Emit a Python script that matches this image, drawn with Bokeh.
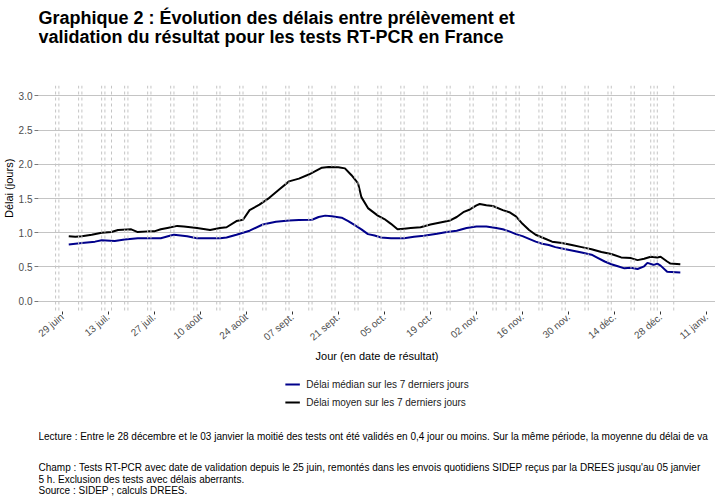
import math
import pandas as pd
from bokeh.plotting import figure
from bokeh.layouts import column
from bokeh.models import (Range1d, FixedTicker, Span, Label, Legend, LegendItem, Title,
                          ColumnDataSource, NumeralTickFormatter)
from bokeh.embed import file_html
from bokeh.resources import INLINE

# ---------------- data ----------------
mean_dates = ["2020-07-01", "2020-07-03", "2020-07-05", "2020-07-08", "2020-07-11", "2020-07-14",
              "2020-07-16", "2020-07-20", "2020-07-22", "2020-07-25", "2020-07-27", "2020-07-29",
              "2020-07-31", "2020-08-03", "2020-08-05", "2020-08-09", "2020-08-13", "2020-08-16",
              "2020-08-18", "2020-08-21", "2020-08-23", "2020-08-25", "2020-08-28", "2020-08-31",
              "2020-09-03", "2020-09-06", "2020-09-09", "2020-09-12", "2020-09-14", "2020-09-16",
              "2020-09-18", "2020-09-21", "2020-09-23", "2020-09-25", "2020-09-27", "2020-09-28",
              "2020-09-30", "2020-10-03", "2020-10-05", "2020-10-07", "2020-10-09", "2020-10-11",
              "2020-10-13", "2020-10-16", "2020-10-19", "2020-10-22", "2020-10-25", "2020-10-27",
              "2020-10-29", "2020-10-31", "2020-11-02", "2020-11-03", "2020-11-05", "2020-11-07",
              "2020-11-10", "2020-11-12", "2020-11-14", "2020-11-16", "2020-11-18", "2020-11-20",
              "2020-11-22", "2020-11-25", "2020-11-28", "2020-12-01", "2020-12-04", "2020-12-07",
              "2020-12-10", "2020-12-13", "2020-12-16", "2020-12-19", "2020-12-21", "2020-12-23",
              "2020-12-25", "2020-12-27", "2020-12-28", "2020-12-30", "2020-12-31", "2021-01-03"]
mean_values = [0.95, 0.94, 0.95, 0.97, 1.00, 1.01,
               1.04, 1.05, 1.01, 1.02, 1.02, 1.05,
               1.07, 1.10, 1.09, 1.07, 1.04, 1.07,
               1.08, 1.17, 1.19, 1.33, 1.41, 1.51,
               1.63, 1.75, 1.79, 1.85, 1.90, 1.95,
               1.96, 1.955, 1.94, 1.84, 1.72, 1.52,
               1.36, 1.25, 1.20, 1.13, 1.05, 1.06,
               1.07, 1.08, 1.12, 1.15, 1.18, 1.23,
               1.30, 1.34, 1.40, 1.42, 1.40, 1.39,
               1.33, 1.30, 1.24, 1.13, 1.04, 0.97,
               0.93, 0.87, 0.85, 0.82, 0.79, 0.76,
               0.72, 0.69, 0.64, 0.63, 0.60, 0.62,
               0.65, 0.64, 0.65, 0.58, 0.55, 0.54]

median_dates = ["2020-07-01", "2020-07-05", "2020-07-09", "2020-07-11", "2020-07-15", "2020-07-18",
                "2020-07-22", "2020-07-29", "2020-08-01", "2020-08-02", "2020-08-06", "2020-08-09",
                "2020-08-12", "2020-08-16", "2020-08-18", "2020-08-21", "2020-08-25", "2020-08-29",
                "2020-09-02", "2020-09-06", "2020-09-09", "2020-09-13", "2020-09-15", "2020-09-17",
                "2020-09-19", "2020-09-22", "2020-09-24", "2020-09-26", "2020-09-28", "2020-09-30",
                "2020-10-02", "2020-10-04", "2020-10-07", "2020-10-11", "2020-10-14", "2020-10-17",
                "2020-10-21", "2020-10-24", "2020-10-27", "2020-10-30", "2020-11-02", "2020-11-05",
                "2020-11-08", "2020-11-10", "2020-11-12", "2020-11-14", "2020-11-16", "2020-11-18",
                "2020-11-20", "2020-11-22", "2020-11-24", "2020-11-26", "2020-11-28", "2020-12-01",
                "2020-12-04", "2020-12-07", "2020-12-09", "2020-12-11", "2020-12-13", "2020-12-15",
                "2020-12-17", "2020-12-19", "2020-12-21", "2020-12-23", "2020-12-24", "2020-12-26",
                "2020-12-27", "2020-12-28", "2020-12-30", "2021-01-03"]
median_values = [0.83, 0.85, 0.87, 0.89, 0.88, 0.90,
                 0.92, 0.92, 0.96, 0.97, 0.95, 0.92,
                 0.92, 0.92, 0.93, 0.97, 1.03, 1.12,
                 1.16, 1.18, 1.185, 1.19, 1.23, 1.25,
                 1.24, 1.22, 1.17, 1.11, 1.05, 0.98,
                 0.96, 0.93, 0.92, 0.92, 0.94, 0.955,
                 0.985, 1.01, 1.03, 1.07, 1.09, 1.09,
                 1.07, 1.05, 1.02, 0.98, 0.95, 0.91,
                 0.87, 0.84, 0.82, 0.79, 0.77, 0.74,
                 0.71, 0.68, 0.63, 0.58, 0.54, 0.51,
                 0.48, 0.49, 0.47, 0.51, 0.56, 0.53,
                 0.55, 0.52, 0.43, 0.42]

tick_dates = ["2020-06-29", "2020-07-13", "2020-07-27", "2020-08-10", "2020-08-24", "2020-09-07",
              "2020-09-21", "2020-10-05", "2020-10-19", "2020-11-02", "2020-11-16", "2020-11-30",
              "2020-12-14", "2020-12-28", "2021-01-11"]
tick_labels = ["29 juin", "13 juil.", "27 juil.", "10 août", "24 août", "07 sept.",
               "21 sept.", "05 oct.", "19 oct.", "02 nov.", "16 nov.", "30 nov.",
               "14 déc.", "28 déc.", "11 janv."]
y_ticks = [0.0, 0.5, 1.0, 1.5, 2.0, 2.5, 3.0]

holidays = ["2020-07-14", "2020-08-15", "2020-11-01", "2020-11-11", "2020-12-25", "2021-01-01"]
weekend_first, weekend_last = "2020-06-27", "2020-12-27"

title_lines = ["Graphique 2 : Évolution des délais entre prélèvement et",
               "validation du résultat pour les tests RT-PCR en France"]
x_title = "Jour (en date de résultat)"
y_title = "Délai (jours)"
legend_labels = ["Délai médian sur les 7 derniers jours", "Délai moyen sur les 7 derniers jours"]
footer_lines = [
    "Lecture : Entre le 28 décembre et le 03 janvier la moitié des tests ont été validés en 0,4 jour ou moins. Sur la même période, la moyenne du  délai de va",
    "Champ : Tests RT-PCR avec date de validation depuis le 25 juin, remontés dans les envois quotidiens SIDEP reçus par la DREES jusqu'au 05 janvier",
    "5 h. Exclusion des tests avec délais aberrants.",
    "Source : SIDEP ; calculs DREES.",
]

# ---------------- helpers ----------------
def ms(d):
    return pd.Timestamp(d).value / 1e6

FONT = "Liberation Sans"
DAY = 86400000.0
W = 715
MEDIAN_COLOR = "#00008b"
MEAN_COLOR = "black"


def plain(f):
    f.grid.visible = False
    f.outline_line_color = None
    f.background_fill_color = "white"
    f.border_fill_color = "white"
    return f


# ---------- main chart ----------
x_start = ms("2020-06-29") - 7.2 * DAY
x_end = ms("2020-06-29") + 198.7 * DAY
xr = Range1d(x_start, x_end)

p = figure(width=W, height=286, x_axis_type="datetime", title_location=None,
           x_range=xr, y_range=Range1d(-0.15, 3.15),
           output_backend="svg", toolbar_location=None,
           min_border_left=38, min_border_right=0, min_border_top=0, min_border_bottom=60)
p.outline_line_color = None
p.background_fill_color = "white"
p.border_fill_color = "white"

marker_days = set(pd.date_range(weekend_first, weekend_last, freq="W-SAT"))
marker_days |= set(pd.date_range(weekend_first, weekend_last, freq="W-SUN"))
marker_days |= set(pd.to_datetime(holidays))
for d in sorted(marker_days):
    p.add_layout(Span(location=ms(d), dimension="height", line_color="#c4c4c4",
                      line_width=1, line_dash="3 3"))

src_med = ColumnDataSource(dict(x=pd.to_datetime(median_dates), y=median_values))
src_mean = ColumnDataSource(dict(x=pd.to_datetime(mean_dates), y=mean_values))
p.line("x", "y", source=src_med, line_color=MEDIAN_COLOR, line_width=2)
p.line("x", "y", source=src_mean, line_color=MEAN_COLOR, line_width=2)

p.xgrid.grid_line_color = None
p.ygrid.grid_line_color = "#c4c4c4"
p.ygrid.grid_line_width = 1
p.yaxis.ticker = FixedTicker(ticks=y_ticks)
p.yaxis.formatter = NumeralTickFormatter(format="0.0")
p.xaxis.ticker = FixedTicker(ticks=[ms(d) for d in tick_dates])
p.xaxis.major_label_overrides = {ms(d): lab for d, lab in zip(tick_dates, tick_labels)}
p.xaxis.major_label_orientation = 0.70
for ax in (p.xaxis, p.yaxis):
    ax.axis_line_color = None
    ax.minor_tick_line_color = None
    ax.major_tick_in = 0
    ax.major_label_text_font = FONT
    ax.major_label_text_font_size = "10px"
    ax.major_label_text_color = "#4d4d4d"
p.xaxis.major_tick_out = 3
p.xaxis.major_tick_line_color = "#333333"
p.xaxis.major_label_standoff = 1
p.xaxis.axis_label = x_title
p.xaxis.axis_label_standoff = 0
p.xaxis.axis_label_text_font = FONT
p.xaxis.axis_label_text_font_style = "normal"
p.xaxis.axis_label_text_font_size = "11px"
p.xaxis.axis_label_text_color = "black"
p.yaxis.major_tick_out = 4
p.yaxis.major_tick_line_color = "#777777"
p.yaxis.major_label_standoff = 2

# y-axis title, placed in the left side panel a little above the panel centre (as in the reference)
p.add_layout(Title(text=y_title, align="left", vertical_align="middle", offset=93.5,
                   standoff=-0.6, text_font=FONT, text_font_size="11px",
                   text_font_style="normal", text_color="black"), "left")

# ---------- title panel ----------
top = plain(figure(width=W, height=85, x_range=Range1d(0, 1), y_range=Range1d(0, 1),
                   x_axis_location=None, y_axis_location=None, min_border=0,
                   title_location=None, output_backend="svg", toolbar_location=None))
for t, yy in zip(title_lines, [68, 49]):
    top.add_layout(Label(x=0, y=yy, x_units="screen", y_units="screen", text=t,
                         text_align="left", text_baseline="middle", text_font=FONT,
                         text_font_size="18px", text_font_style="bold", text_color="black"))

# ---------- legend + notes panel (shares the time axis of the chart) ----------
bottom = plain(figure(width=W, height=129, x_range=xr, y_range=Range1d(10, 11),
                      x_axis_location=None, y_axis_location=None, min_border=0,
                      title_location=None, output_backend="svg", toolbar_location=None))
# same series, same styles: they fall outside this panel's y window and only feed the legend
l_med = bottom.line("x", "y", source=src_med, line_color=MEDIAN_COLOR, line_width=2)
l_mean = bottom.line("x", "y", source=src_mean, line_color=MEAN_COLOR, line_width=2)
legend = Legend(items=[LegendItem(label=legend_labels[0], renderers=[l_med]),
                       LegendItem(label=legend_labels[1], renderers=[l_mean])],
                location="top_center", orientation="vertical",
                glyph_width=15, glyph_height=18, label_height=18, label_standoff=7,
                spacing=0, padding=0, margin=4, border_line_color=None,
                background_fill_alpha=0, label_text_font=FONT,
                label_text_font_size="10px", label_text_color="#1a1a1a")
bottom.add_layout(legend, "center")
for t, yy in zip(footer_lines, [64, 33, 21.5, 10]):
    bottom.add_layout(Label(x=0, y=yy, x_units="screen", y_units="screen", text=t,
                            text_align="left", text_baseline="middle", text_font=FONT,
                            text_font_size="10px", text_color="black"))

layout = column(top, p, bottom, spacing=0)
open("out.html", "w").write(file_html(layout, INLINE))
